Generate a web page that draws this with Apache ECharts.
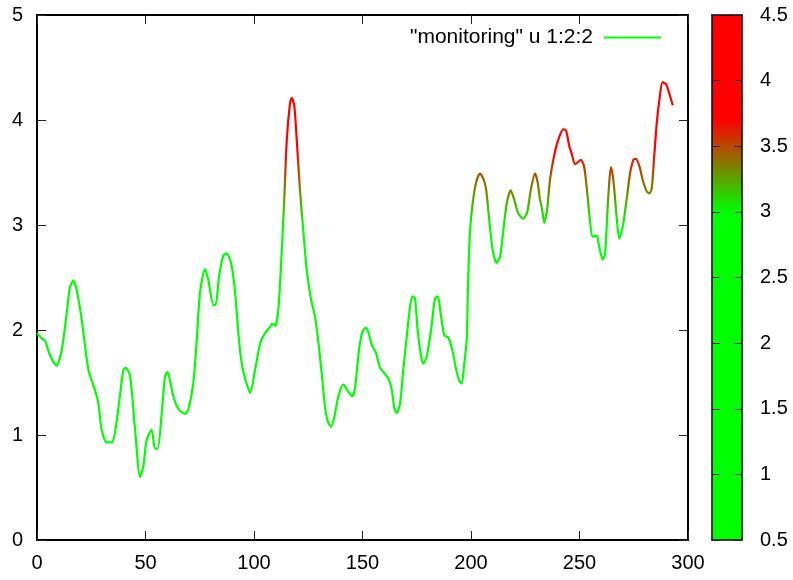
<!DOCTYPE html>
<html>
<head>
<meta charset="utf-8">
<script src="https://cdn.jsdelivr.net/npm/echarts@6/dist/echarts.min.js"></script>
<style>html,body{margin:0;padding:0;background:#fff}#c{width:793px;height:580px}</style>
</head>
<body>
<div id="c"></div>
<script>
var xs = [0,2.2,3.7,6,9,11.4,13.7,15.2,16.7,18.3,20.6,23.7,26.7,28.3,29.8,32.1,34.4,35.9,38.2,39.8,40.9,42.9,45.2,47.5,49,50.5,52.8,54.4,55.6,57.5,59,60.2,61.3,62.8,65.1,68.2,69.7,72,73.6,75.1,77.4,78.9,81.3,82.3,83.9,85.9,87.4,89.4,91.2,93.1,94.6,96.6,98.2,100.5,102.8,105.1,107.4,108.4,109.7,111.2,112.8,114,115.1,116.6,117.4,118.6,119.7,121.2,122.7,124.3,126.3,128.1,129.6,131.2,132.7,134,135.5,137,138.9,141.2,143.5,145.3,146.5,148.4,149.9,151.5,152.7,154.2,156.1,158.1,160,161.9,163.5,164.7,165.8,167.3,168.8,170.4,171.9,173,174.2,175.4,177,178,179.6,181.6,183.4,184.7,186.2,187.7,189.5,191.4,192.9,194.5,195.7,196.9,198,198.6,199.5,200.8,202.3,204.1,205.7,206.9,208.4,210,211.8,213.4,214.9,216.5,218.3,219.8,221.8,224.1,226,227.5,229.5,230.7,231.8,232.6,233.8,235.2,236.4,238.2,240.2,242.5,243.8,245.3,246.4,247.9,249.4,250.6,252.1,253.3,254.8,256,257.9,259.1,260.7,261.8,262.9,263.8,264.5,265.6,267.1,268.3,269.9,271.7,273.3,274.8,276,277.6,279.1,281,282.2,283.3,284.3,285.6,286.8,288.3,289.9,291.4,293];
var ys = [1.97,1.92,1.90,1.76,1.66,1.81,2.16,2.41,2.47,2.38,2.10,1.62,1.43,1.30,1.05,0.93,0.93,1.02,1.37,1.62,1.64,1.56,1.05,0.60,0.70,0.95,1.05,0.87,0.87,1.21,1.56,1.60,1.52,1.37,1.25,1.20,1.24,1.49,1.90,2.35,2.58,2.48,2.24,2.24,2.51,2.71,2.73,2.64,2.38,1.90,1.65,1.49,1.40,1.62,1.87,1.97,2.03,2.06,2.04,2.19,2.76,3.27,3.81,4.16,4.21,4.13,3.81,3.33,2.95,2.57,2.29,2.13,1.90,1.59,1.27,1.13,1.08,1.17,1.37,1.48,1.41,1.37,1.44,1.81,1.98,2.02,1.98,1.86,1.79,1.64,1.59,1.54,1.43,1.25,1.21,1.30,1.62,1.94,2.22,2.32,2.30,2.00,1.75,1.68,1.75,2.00,2.30,2.32,2.13,1.95,1.93,1.81,1.65,1.52,1.49,1.68,1.90,2.40,2.92,3.21,3.40,3.49,3.44,3.35,3.05,2.76,2.64,2.70,2.95,3.21,3.33,3.25,3.11,3.06,3.13,3.33,3.49,3.41,3.24,3.17,3.02,3.17,3.43,3.65,3.81,3.91,3.90,3.75,3.68,3.58,3.60,3.62,3.56,3.36,3.05,2.89,2.90,2.79,2.67,2.73,3.14,3.43,3.55,3.43,3.08,2.87,2.98,3.24,3.49,3.62,3.63,3.56,3.43,3.32,3.30,3.35,3.62,3.97,4.19,4.36,4.34,4.25,4.14];
var xTicks = [0, 300, 50];
var yTicks = [0, 5, 1];
var cbTicks = [0.5, 4.5, 0.5];
var seriesName = '"monitoring" u 1:2:2';

var data = xs.map(function (x, i) { return [x, ys[i]]; });

function pal(v) {
  var a = 3.0, b = 3.7, t;
  if (v <= a) t = 0; else if (v >= b) t = 1; else t = (v - a) / (b - a);
  var r = Math.round(255 * t), g = Math.round(255 * (1 - t));
  return 'rgb(' + r + ',' + g + ',0)';
}
var colors = [];
for (var i = 0; i <= 40; i++) colors.push(pal(cbTicks[0] + i * 0.1));

var FONT = 'Liberation Sans';
var FS = 20;
var tickStyle = { color: '#222', width: 1 };
var lineStyle = { color: '#000', width: 2 };

var chart = echarts.init(document.getElementById('c'), null, { renderer: 'canvas' });
chart.setOption({
  animation: false,
  backgroundColor: '#fff',
  textStyle: { fontFamily: FONT },
  grid: [
    { left: 37, right: 105, top: 15, bottom: 40 },
    { left: 712, width: 30, top: 15, bottom: 40 }
  ],
  legend: {
    data: [{ name: seriesName, icon: 'rect', itemStyle: { color: '#00ff00' } }],
    align: 'right',
    right: 132, top: 27, padding: 0,
    itemWidth: 57, itemHeight: 2,
    textStyle: { fontFamily: FONT, fontSize: 21, color: '#000', padding: [0, 6, 0, 0] },
    selectedMode: false
  },
  visualMap: [{
    type: 'continuous', seriesIndex: 0, dimension: 1,
    min: cbTicks[0], max: cbTicks[1],
    inRange: { color: colors },
    left: 712, top: 15, itemWidth: 30, itemHeight: 525,
    padding: 0, calculable: false, text: null, showLabel: false,
    hoverLink: false, realtime: false
  }],
  xAxis: [
    { gridIndex: 0, type: 'value', position: 'bottom', min: xTicks[0], max: xTicks[1], interval: xTicks[2],
      axisLine: { show: true, lineStyle: lineStyle, onZero: false },
      axisTick: { inside: true, length: 9, lineStyle: tickStyle },
      axisLabel: { fontFamily: FONT, fontSize: FS, color: '#000', margin: 13 },
      splitLine: { show: false } },
    { gridIndex: 0, type: 'value', position: 'top', min: xTicks[0], max: xTicks[1], interval: xTicks[2],
      axisLine: { show: true, lineStyle: lineStyle, onZero: false },
      axisTick: { inside: true, length: 9, lineStyle: tickStyle },
      axisLabel: { show: false }, splitLine: { show: false } },
    { gridIndex: 1, type: 'value', position: 'bottom', min: 0, max: 1, z: 10,
      axisLine: { show: true, lineStyle: { color: '#000', width: 1.5 }, onZero: false },
      axisTick: { show: false }, axisLabel: { show: false }, splitLine: { show: false } },
    { gridIndex: 1, type: 'value', position: 'top', min: 0, max: 1, z: 10,
      axisLine: { show: true, lineStyle: { color: '#000', width: 1.5 }, onZero: false },
      axisTick: { show: false }, axisLabel: { show: false }, splitLine: { show: false } }
  ],
  yAxis: [
    { gridIndex: 0, type: 'value', position: 'left', min: yTicks[0], max: yTicks[1], interval: yTicks[2],
      axisLine: { show: true, lineStyle: lineStyle, onZero: false },
      axisTick: { inside: true, length: 9, lineStyle: tickStyle },
      axisLabel: { fontFamily: FONT, fontSize: FS, color: '#000', margin: 14 },
      splitLine: { show: false } },
    { gridIndex: 0, type: 'value', position: 'right', min: yTicks[0], max: yTicks[1], interval: yTicks[2],
      axisLine: { show: true, lineStyle: lineStyle, onZero: false },
      axisTick: { inside: true, length: 9, lineStyle: tickStyle },
      axisLabel: { show: false }, splitLine: { show: false } },
    { gridIndex: 1, type: 'value', position: 'right', min: cbTicks[0], max: cbTicks[1], interval: cbTicks[2], z: 10,
      axisLine: { show: true, lineStyle: { color: '#000', width: 1.5 }, onZero: false },
      axisTick: { inside: true, length: 8, lineStyle: tickStyle },
      axisLabel: { fontFamily: FONT, fontSize: FS, color: '#000', margin: 18 },
      splitLine: { show: false } },
    { gridIndex: 1, type: 'value', position: 'left', min: cbTicks[0], max: cbTicks[1], interval: cbTicks[2], z: 10,
      axisLine: { show: true, lineStyle: { color: '#000', width: 1.5 }, onZero: false },
      axisTick: { inside: true, length: 8, lineStyle: tickStyle },
      axisLabel: { show: false }, splitLine: { show: false } }
  ],
  series: [{
    name: seriesName, type: 'line', xAxisIndex: 0, yAxisIndex: 0,
    data: data, showSymbol: false, smooth: 0.25,
    lineStyle: { width: 2.2 },
    itemStyle: { color: '#00ff00' }
  }]
});
</script>
</body>
</html>
